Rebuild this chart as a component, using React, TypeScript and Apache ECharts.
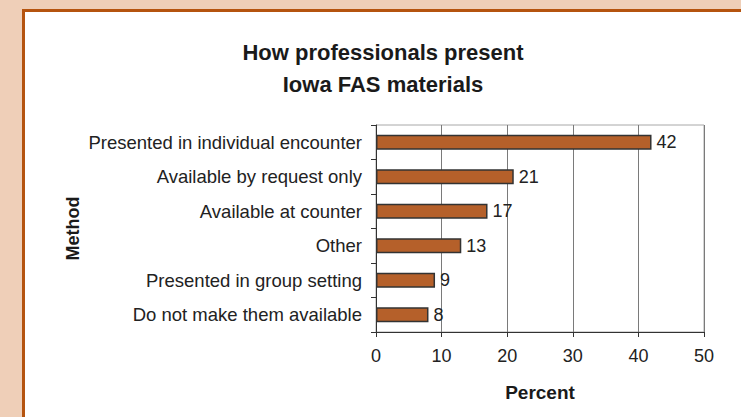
import React, { useEffect, useRef } from "react";
import * as echarts from "echarts";

const categories = [
  "Presented in individual encounter",
  "Available by request only",
  "Available at counter",
  "Other",
  "Presented in group setting",
  "Do not make them available",
];
const values = [42, 21, 17, 13, 9, 8];
const xTicks = { min: 0, max: 50, interval: 10 };
const titleText = "How professionals present\nIowa FAS materials";

export default function App() {
  const ref = useRef<HTMLDivElement>(null);
  useEffect(() => {
    if (!ref.current) return;
    const chart = echarts.init(ref.current, undefined, { renderer: "svg" });
    const font = "Liberation Sans, Arial, sans-serif";
    chart.setOption({
      animation: false,
      backgroundColor: "#EFCFB8",
      textStyle: { fontFamily: font },
      graphic: [
        { type: "rect", z: -10, shape: { x: 22, y: 9, width: 800, height: 500 }, style: { fill: "#B5540F" } },
        { type: "rect", z: -9, shape: { x: 25, y: 12, width: 800, height: 500 }, style: { fill: "#FFFFFF" } },
      ],
      title: {
        text: titleText,
        left: 378,
        textAlign: "center",
        top: 31,
        textStyle: { fontFamily: font, fontSize: 22, fontWeight: "bold", color: "#1a1a1a", lineHeight: 32 },
      },
      grid: {
        left: 376,
        right: 37,
        top: 125,
        bottom: 85,
        show: true,
        borderColor: "#A8A8A8",
        borderWidth: 1,
        backgroundColor: "transparent",
      },
      xAxis: {
        type: "value",
        min: xTicks.min,
        max: xTicks.max,
        interval: xTicks.interval,
        name: "Percent",
        nameLocation: "middle",
        nameGap: 51,
        nameTextStyle: { fontFamily: font, fontSize: 19, fontWeight: "bold", color: "#1a1a1a" },
        axisLine: { show: true, lineStyle: { color: "#333", width: 1 } },
        axisTick: { show: true, length: 5, lineStyle: { color: "#333" } },
        axisLabel: { fontFamily: font, fontSize: 18, color: "#222", margin: 15 },
        splitLine: { show: true, lineStyle: { color: "#7a7a7a", width: 1 } },
      },
      yAxis: {
        type: "category",
        data: categories,
        inverse: true,
        name: "Method",
        nameLocation: "middle",
        nameRotate: 90,
        nameGap: 294,
        nameTextStyle: { fontFamily: font, fontSize: 18, fontWeight: "bold", color: "#1a1a1a" },
        axisLine: { show: true, lineStyle: { color: "#333", width: 1 } },
        axisTick: { show: true, length: 5, lineStyle: { color: "#333" } },
        axisLabel: { fontFamily: font, fontSize: 18.5, color: "#222", margin: 14 },
        splitLine: { show: false },
      },
      series: [
        {
          type: "bar",
          data: values,
          barCategoryGap: "57%",
          itemStyle: { color: "#B5602A", borderColor: "#333", borderWidth: 1.5 },
          label: {
            show: true,
            position: "right",
            distance: 5,
            fontFamily: font,
            fontSize: 18,
            color: "#222",
          },
        },
      ],
    });
    return () => chart.dispose();
  }, []);
  return (
    <div
      ref={ref}
      style={{ position: "fixed", left: 0, top: 0, width: 741, height: 417 }}
    />
  );
}
